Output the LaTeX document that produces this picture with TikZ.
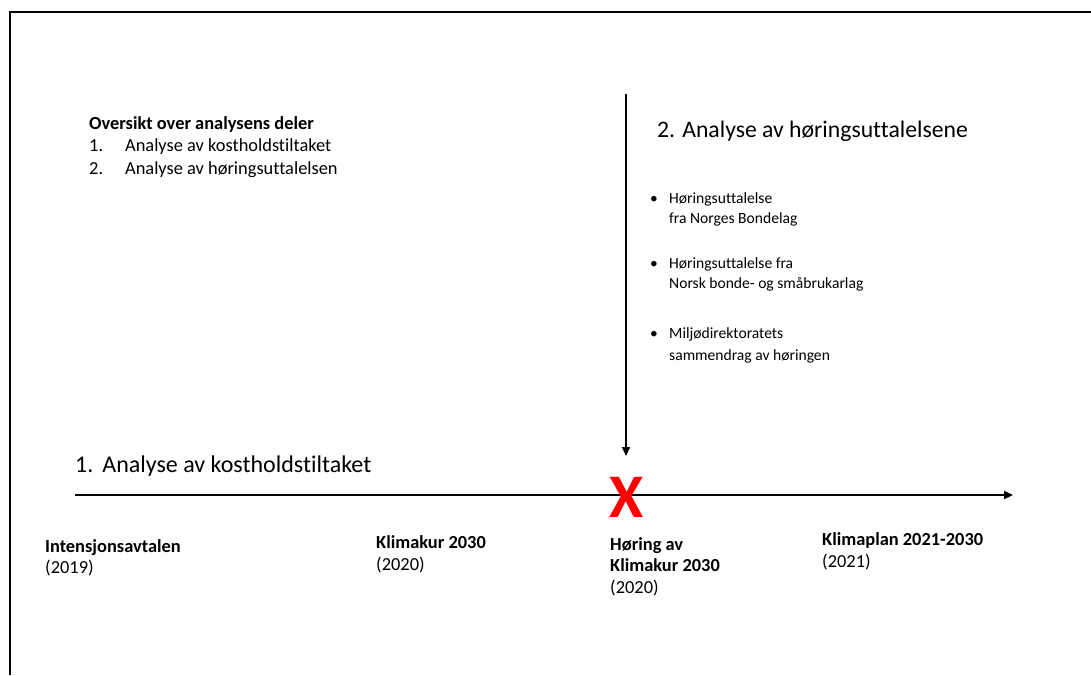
\documentclass[tikz,border=0pt]{standalone}
\usepackage{fontspec}
\setmainfont{Carlito}[Ligatures=NoCommon]
\usetikzlibrary{arrows.meta}
\begin{document}
\begin{tikzpicture}[x=1pt,y=-1pt,
  lbl/.style={anchor=base west,inner sep=0pt,align=left},
  bul/.style={anchor=base west,inner sep=0pt,font=\fontsize{15.5}{18}\selectfont},
  axis/.style={line width=2pt,-{Triangle[length=9pt,width=8pt]}},
  frame/.style={line width=2pt,black}]
\useasboundingbox (0,0) rectangle (1091,675);
\draw[frame] (10,675) -- (10,12) -- (1091,12);
% overview
\node[lbl,font=\fontsize{18.4}{22.5}\selectfont] (ov) at (89,174) {\textbf{Oversikt over analysens deler}\\1.\hspace{22pt}Analyse av kostholdstiltaket\\2.\hspace{22pt}Analyse av høringsuttalelsen};
% right heading
\node[lbl,font=\fontsize{23.7}{26}\selectfont] (h2) at (657,137) {2. Analyse av høringsuttalelsene};
\node[lbl,font=\fontsize{15.6}{20}\selectfont] (b1) at (669,223) {Høringsuttalelse\\fra Norges Bondelag};
\node[lbl,font=\fontsize{15.6}{20}\selectfont] (b2) at (669,288) {Høringsuttalelse fra\\Norsk bonde- og småbrukarlag};
\node[lbl,font=\fontsize{15.6}{22}\selectfont] (b3) at (669,360) {Miljødirektoratets\\sammendrag av høringen};
\node[bul] (d1) at (650,203) {•};
\node[bul] (d2) at (650,268) {•};
\node[bul] (d3) at (650,338) {•};
% axis
\node[lbl,font=\fontsize{24}{26}\selectfont] (h1) at (75,472) {1.\hspace{9pt}Analyse av kostholdstiltaket};
\coordinate (axs) at (75,495);
\coordinate (axe) at (1013,495);
\draw[axis] (axs) -- (axe);
\coordinate (vs) at (626,94);
\coordinate (ve) at (626,456);
\draw[line width=2pt,-{Triangle[length=9pt,width=8pt]}] (vs) -- (ve);
\node[inner sep=0pt,text=red,font=\fontsize{62}{64}\selectfont\bfseries] (x) at (627,497) {X};
% timeline labels
\node[lbl,font=\fontsize{18.4}{21}\selectfont] (t1) at (45,573) {\textbf{Intensjonsavtalen}\\(2019)};
\node[lbl,font=\fontsize{18.4}{21.5}\selectfont] (t2) at (376,570) {\textbf{Klimakur 2030}\\(2020)};
\node[lbl,font=\fontsize{18.4}{21.5}\selectfont] (t3) at (610,593) {\textbf{Høring av}\\\textbf{Klimakur 2030}\\(2020)};
\node[lbl,font=\fontsize{18.4}{21.5}\selectfont] (t4) at (822,567) {\textbf{Klimaplan 2021-2030}\\(2021)};
\end{tikzpicture}
\end{document}
